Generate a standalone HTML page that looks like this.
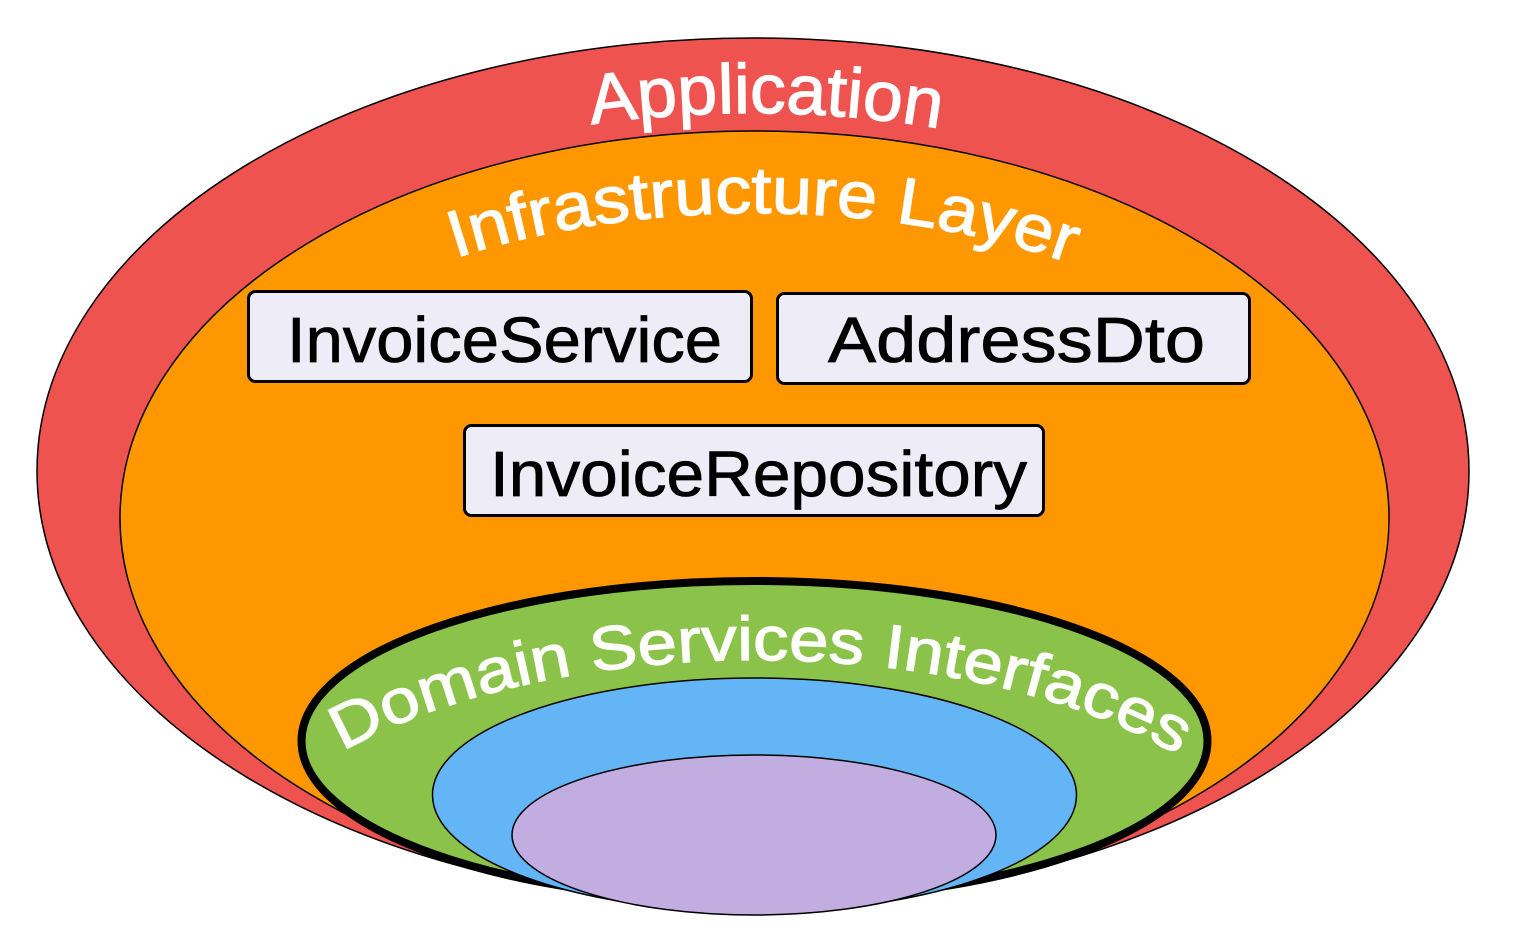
<!DOCTYPE html>
<html><head><meta charset="utf-8"><style>
html,body{margin:0;padding:0;background:#fff;}
svg{display:block;}
text{font-family:"Liberation Sans",sans-serif;}
</style></head><body>
<svg width="1526" height="938" viewBox="0 0 1526 938" xmlns="http://www.w3.org/2000/svg">
<defs>
<path id="pA" d="M112,471 A641,358 0 0 1 1394,471"/>
<path id="pI" d="M182,518 A573,305 0 0 1 1328,518"/>
<path id="pD" d="M217,915 A540,255 0 0 1 1297,915"/>
</defs>
<ellipse cx="753" cy="471" rx="716" ry="433" fill="#ef5350" stroke="#000" stroke-width="1.5"/>
<ellipse cx="754.5" cy="518" rx="634.5" ry="387" fill="#ff9800" stroke="#000" stroke-width="1.5"/>
<text font-size="70" fill="#fff" stroke="#fff" stroke-width="1.2"><textPath href="#pA" startOffset="50.8%" text-anchor="middle" textLength="350" lengthAdjust="spacingAndGlyphs">Application</textPath></text>
<text font-size="66" fill="#fff" stroke="#fff" stroke-width="1.2"><textPath href="#pI" startOffset="50.6%" text-anchor="middle" textLength="625" lengthAdjust="spacingAndGlyphs">Infrastructure Layer</textPath></text>
<rect x="248.5" y="291.5" width="503" height="90" rx="7" fill="#eeecf6" stroke="#000" stroke-width="3"/>
<rect x="777.5" y="293.5" width="472" height="90" rx="7" fill="#eeecf6" stroke="#000" stroke-width="3"/>
<rect x="464.5" y="425.5" width="579" height="90" rx="7" fill="#eeecf6" stroke="#000" stroke-width="3"/>
<text x="504.5" y="362" font-size="64" fill="#000" stroke="#000" stroke-width="0.8" text-anchor="middle" textLength="435" lengthAdjust="spacingAndGlyphs">InvoiceService</text>
<text x="1016.5" y="362" font-size="64" fill="#000" stroke="#000" stroke-width="0.8" text-anchor="middle" textLength="377" lengthAdjust="spacingAndGlyphs">AddressDto</text>
<text x="758.5" y="496" font-size="64" fill="#000" stroke="#000" stroke-width="0.8" text-anchor="middle" textLength="537" lengthAdjust="spacingAndGlyphs">InvoiceRepository</text>
<ellipse cx="754.5" cy="741" rx="453" ry="160" fill="#8bc34a" stroke="#000" stroke-width="8"/>
<text font-size="62" fill="#fff" stroke="#fff" stroke-width="1.2"><textPath href="#pD" startOffset="50.3%" text-anchor="middle" textLength="865" lengthAdjust="spacingAndGlyphs">Domain Services Interfaces</textPath></text>
<ellipse cx="754.5" cy="795" rx="322" ry="117" fill="#64b5f6" stroke="#000" stroke-width="1.5"/>
<ellipse cx="754" cy="835" rx="242" ry="80" fill="#c1ade0" stroke="#000" stroke-width="1.5"/>
</svg>
</body></html>
